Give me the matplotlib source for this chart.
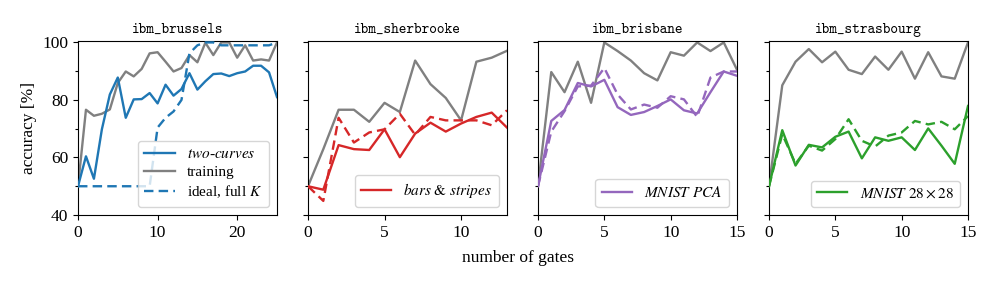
import matplotlib
matplotlib.use("Agg")
import matplotlib.pyplot as plt
from matplotlib.ticker import MultipleLocator

plt.rcParams['font.family'] = ['Liberation Serif', 'DejaVu Serif']
plt.rcParams['mathtext.fontset'] = 'stix'
plt.rcParams['axes.unicode_minus'] = False

# ---- data ----
backends = ["ibm_brussels", "ibm_sherbrooke", "ibm_brisbane", "ibm_strasbourg"]
dataset_labels = [r"$\mathit{two}$-$\mathit{curves}$",
                  r"$\mathit{bars}$ $\mathit{&}$ $\mathit{stripes}$",
                  r"$\mathit{MNIST\ PCA}$",
                  r"$\mathit{MNIST}\ 28\times28$"]
colors = ["#1f77b4", "#d62728", "#9467bd", "#2ca02c"]
xmax = [25, 13, 15, 15]
xticks = [[0, 10, 20], [0, 5, 10], [0, 5, 10, 15], [0, 5, 10, 15]]

brussels_test = [50, 60.4, 52.6, 69.8, 81.9, 87.8, 73.8, 80.2, 80.3, 82.4, 78.8, 85.3, 81.5,
                 83.8, 89.3, 83.6, 86.5, 89.0, 89.2, 88.3, 89.3, 89.9, 91.9, 91.9, 89.6, 81.0]
brussels_train = [50, 76.6, 74.5, 75.2, 76.7, 85.9, 89.9, 88.2, 90.8, 96.2, 96.6, 93.3, 89.9,
                  91.1, 95.6, 93.1, 99.9, 95.6, 100, 100, 94.7, 99.0, 93.7, 94.1, 93.7, 100]
brussels_ideal = [50, 50, 50, 50, 50, 50, 50, 50, 50, 50, 70.4, 73.8, 76.0,
                  80.0, 96.2, 99.0, 100, 100, 99.0, 99.0, 99.0, 99.0, 99.0, 99.0, 99.0, 100]

sherbrooke_test = [50, 48.8, 64.3, 62.9, 62.6, 69.8, 60.1, 68.3, 72.1, 69.0, 71.8, 74.1, 75.6, 70.4]
sherbrooke_train = [50, 62.9, 76.6, 76.6, 72.4, 79.0, 75.8, 93.7, 85.5, 80.7, 72.9, 93.3, 94.7, 97.1]
sherbrooke_ideal = [50, 44.9, 73.8, 65.2, 68.7, 69.8, 75.2, 67.9, 74.1, 72.9, 72.9, 72.9, 71.2, 76.4]

brisbane_test = [50, 72.7, 76.5, 85.9, 84.7, 87.0, 77.5, 74.8, 75.8, 77.9, 80.2, 76.4, 75.3, 82.7, 89.9, 88.4]
brisbane_train = [50, 89.7, 82.7, 93.3, 79.0, 100, 97.0, 93.7, 89.3, 86.8, 96.6, 95.4, 100, 97.0, 100, 90.5]
brisbane_ideal = [50, 69.0, 76.1, 84.7, 85.0, 91.1, 81.9, 76.7, 78.4, 77.3, 81.3, 80.2, 74.1, 87.8, 89.9, 89.9]

strasbourg_test = [50, 69.5, 57.2, 64.4, 63.5, 67.2, 69.0, 59.7, 67.0, 65.8, 67.0, 62.6, 70.1, 64.1, 57.8, 77.9]
strasbourg_train = [50, 85.1, 93.3, 97.7, 93.1, 96.8, 90.5, 89.0, 95.1, 90.5, 96.8, 87.4, 96.6, 88.2, 87.4, 100]
strasbourg_ideal = [50, 68.1, 57.8, 64.1, 62.4, 66.4, 73.3, 65.8, 63.8, 67.6, 68.7, 72.7, 71.5, 72.4, 69.8, 74.4]

tests = [brussels_test, sherbrooke_test, brisbane_test, strasbourg_test]
trains = [brussels_train, sherbrooke_train, brisbane_train, strasbourg_train]
ideals = [brussels_ideal, sherbrooke_ideal, brisbane_ideal, strasbourg_ideal]

fig = plt.figure(figsize=(9.97, 2.96), dpi=100)
lefts = [78, 308, 538, 769]
width = 199
bottom = 215
top = 41
W, H = 997, 296
axes = []
for i in range(4):
    ax = fig.add_axes([lefts[i] / W, 1 - bottom / H, width / W, (bottom - top) / H])
    axes.append(ax)
    xs_t = list(range(len(tests[i])))
    c = colors[i]
    l_test, = ax.plot(xs_t, tests[i], color=c, lw=1.7, label=dataset_labels[i], zorder=3)
    l_train, = ax.plot(list(range(len(trains[i]))), trains[i], color="#808080", lw=1.7,
                       label="training", zorder=2)
    l_ideal, = ax.plot(list(range(len(ideals[i]))), ideals[i], color=c, lw=1.7, ls=(0, (4, 2.2)),
                       label=r"ideal, full $K$", zorder=3)
    ax.set_xlim(0, xmax[i])
    ax.set_ylim(40, 100.5)
    ax.set_xticks(xticks[i])
    ax.yaxis.set_major_locator(MultipleLocator(20))
    ax.yaxis.set_minor_locator(MultipleLocator(10))
    ax.tick_params(axis='both', which='major', labelsize=12.5, length=3.5, width=0.8)
    ax.tick_params(axis='y', which='minor', length=2.5, width=0.8)
    ax.set_title(backends[i], family='cmtt10', fontsize=10.5, pad=6)
    if i == 0:
        ax.set_ylabel("accuracy [%]", fontsize=12.5)
        ax.legend(handles=[l_test, l_train, l_ideal], loc='lower right', fontsize=11,
                  handlelength=2.0, borderaxespad=0.55, labelspacing=0.3, framealpha=0.8)
    else:
        ax.set_yticklabels([])
        ax.legend(handles=[l_test], loc='lower right', fontsize=11,
                  handlelength=2.0, borderaxespad=0.55, framealpha=0.8)
    ax.set_ylim(40, 100.5)

fig.text(518 / W, 1 - 258 / H, "number of gates", ha='center', va='center', fontsize=12.5)
fig.savefig("out.png", dpi=100)
